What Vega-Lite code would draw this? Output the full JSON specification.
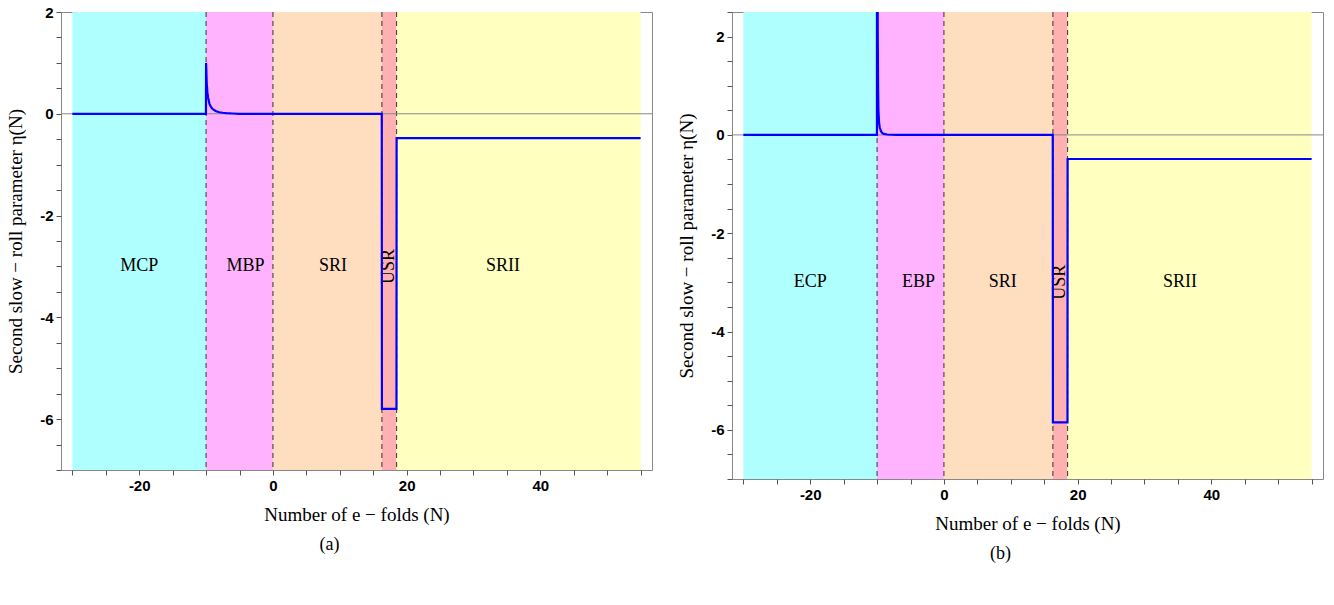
{
  "$schema": "https://vega.github.io/schema/vega-lite/v6.json",
  "padding": {"left": 6, "top": 4, "right": 5, "bottom": 5},
  "spacing": 24,
  "datasets": {
    "regionsA": [
      {"N0": -30, "N1": -10, "r": "c"},
      {"N0": -10, "N1": 0, "r": "m"},
      {"N0": 0, "N1": 16.3, "r": "o"},
      {"N0": 16.3, "N1": 18.5, "r": "r"},
      {"N0": 18.5, "N1": 55, "r": "y"}
    ],
    "bounds": [{"N": -10}, {"N": 0}, {"N": 16.3}, {"N": 18.5}],
    "labelsA": [
      {"N": -20, "eta": -3, "t": "MCP"},
      {"N": -4.1, "eta": -3, "t": "MBP"},
      {"N": 9, "eta": -3, "t": "SRI"},
      {"N": 17.4, "eta": -3, "t": "USR"},
      {"N": 34.4, "eta": -3, "t": "SRII"}
    ],
    "labelsB": [
      {"N": -20, "eta": -3, "t": "ECP"},
      {"N": -3.8, "eta": -3, "t": "EBP"},
      {"N": 8.8, "eta": -3, "t": "SRI"},
      {"N": 17.4, "eta": -3, "t": "USR"},
      {"N": 35.3, "eta": -3, "t": "SRII"}
    ],
    "lineA": [
      {"N": -30, "eta": 0}, {"N": -10.02, "eta": 0}, {"N": -10, "eta": 1.0},
      {"N": -9.9, "eta": 0.6}, {"N": -9.8, "eta": 0.42}, {"N": -9.7, "eta": 0.32},
      {"N": -9.5, "eta": 0.2}, {"N": -9.25, "eta": 0.13}, {"N": -9, "eta": 0.09},
      {"N": -8.5, "eta": 0.05}, {"N": -8, "eta": 0.03}, {"N": -7.5, "eta": 0.02},
      {"N": -7, "eta": 0.012}, {"N": -6, "eta": 0.005}, {"N": -5, "eta": 0},
      {"N": 16.28, "eta": 0}, {"N": 16.3, "eta": -5.8}, {"N": 18.48, "eta": -5.8},
      {"N": 18.5, "eta": -0.48}, {"N": 55, "eta": -0.48}
    ],
    "lineB": [
      {"N": -30, "eta": 0}, {"N": -10.02, "eta": 0}, {"N": -10, "eta": 20},
      {"N": -9.95, "eta": 5}, {"N": -9.9, "eta": 2}, {"N": -9.85, "eta": 1},
      {"N": -9.8, "eta": 0.5}, {"N": -9.7, "eta": 0.25}, {"N": -9.6, "eta": 0.15},
      {"N": -9.4, "eta": 0.07}, {"N": -9.2, "eta": 0.035}, {"N": -9, "eta": 0.02},
      {"N": -8.5, "eta": 0.008}, {"N": -8, "eta": 0.003}, {"N": -7, "eta": 0},
      {"N": 16.28, "eta": 0}, {"N": 16.3, "eta": -5.85}, {"N": 18.48, "eta": -5.85},
      {"N": 18.5, "eta": -0.49}, {"N": 55, "eta": -0.49}
    ]
  },
  "hconcat": [
    {
      "title": {"text": "(a)", "orient": "bottom", "frame": "bounds", "anchor": "middle", "offset": 12, "fontSize": 18},
      "width": 591,
      "height": 458,
      "resolve": {"axis": {"x": "independent", "y": "independent"}},
      "layer": [
        {
          "data": {"name": "regionsA"},
          "mark": {"type": "rect"},
          "encoding": {
            "x": {"field": "N0", "type": "quantitative", "scale": {"domain": [-31.7, 56.7], "nice": false, "zero": false}, "axis": null},
            "x2": {"field": "N1"},
            "color": {"field": "r", "type": "nominal", "legend": null, "scale": {"domain": ["c", "m", "o", "r", "y"], "range": ["#B0FFFF", "#FFB3FF", "#FFDDBF", "#FFB0B0", "#FFFFC0"]}}
          }
        },
        {
          "data": {"name": "bounds"},
          "mark": {"type": "rule", "color": "#333", "strokeDash": [5, 4], "strokeWidth": 1},
          "encoding": {"x": {"field": "N", "type": "quantitative", "axis": null}}
        },
        {
          "data": {"values": [{"z": 0}]},
          "mark": {"type": "rule", "color": "#888", "strokeWidth": 1},
          "encoding": {"y": {"field": "z", "type": "quantitative", "axis": null}}
        },
        {
          "data": {"name": "labelsA"},
          "transform": [{"filter": "datum.t !== 'USR'"}],
          "mark": {"type": "text", "font": "Liberation Serif", "fontSize": 18, "color": "#000"},
          "encoding": {
            "x": {"field": "N", "type": "quantitative", "axis": null},
            "y": {"field": "eta", "type": "quantitative", "axis": null},
            "text": {"field": "t"}
          }
        },
        {
          "data": {"name": "labelsA"},
          "transform": [{"filter": "datum.t === 'USR'"}],
          "mark": {"type": "text", "font": "Liberation Serif", "fontSize": 18, "color": "#000", "angle": 270},
          "encoding": {
            "x": {"field": "N", "type": "quantitative", "axis": null},
            "y": {"field": "eta", "type": "quantitative", "axis": null},
            "text": {"field": "t"}
          }
        },
        {
          "data": {"name": "lineA"},
          "mark": {"type": "line", "color": "#0000FF", "strokeWidth": 2.2, "clip": true},
          "encoding": {
            "x": {"field": "N", "type": "quantitative", "title": "Number of e − folds (N)",
              "axis": {"orient": "bottom", "values": [-30, -25, -20, -15, -10, -5, 0, 5, 10, 15, 20, 25, 30, 35, 40, 45, 50, 55], "labelExpr": "datum.value % 20 === 0 ? toString(datum.value) : ''", "tickSize": 5, "titlePadding": 12}},
            "y": {"field": "eta", "type": "quantitative", "scale": {"domain": [-7, 2], "nice": false, "zero": false}, "title": "Second slow − roll parameter η(N)",
              "axis": {"orient": "left", "values": [-7, -6.5, -6, -5.5, -5, -4.5, -4, -3.5, -3, -2.5, -2, -1.5, -1, -0.5, 0, 0.5, 1, 1.5, 2], "labelExpr": "datum.value % 2 === 0 ? toString(datum.value) : ''", "tickSize": 5, "titlePadding": 14}}
          }
        }
      ]
    },
    {
      "title": {"text": "(b)", "orient": "bottom", "frame": "bounds", "anchor": "middle", "offset": 12, "fontSize": 18},
      "width": 591,
      "height": 467,
      "resolve": {"axis": {"x": "independent", "y": "independent"}},
      "layer": [
        {
          "data": {"name": "regionsA"},
          "mark": {"type": "rect"},
          "encoding": {
            "x": {"field": "N0", "type": "quantitative", "scale": {"domain": [-31.7, 56.7], "nice": false, "zero": false}, "axis": null},
            "x2": {"field": "N1"},
            "color": {"field": "r", "type": "nominal", "legend": null, "scale": {"domain": ["c", "m", "o", "r", "y"], "range": ["#B0FFFF", "#FFB3FF", "#FFDDBF", "#FFB0B0", "#FFFFC0"]}}
          }
        },
        {
          "data": {"name": "bounds"},
          "mark": {"type": "rule", "color": "#333", "strokeDash": [5, 4], "strokeWidth": 1},
          "encoding": {"x": {"field": "N", "type": "quantitative", "axis": null}}
        },
        {
          "data": {"values": [{"z": 0}]},
          "mark": {"type": "rule", "color": "#888", "strokeWidth": 1},
          "encoding": {"y": {"field": "z", "type": "quantitative", "axis": null}}
        },
        {
          "data": {"name": "labelsB"},
          "transform": [{"filter": "datum.t !== 'USR'"}],
          "mark": {"type": "text", "font": "Liberation Serif", "fontSize": 18, "color": "#000"},
          "encoding": {
            "x": {"field": "N", "type": "quantitative", "axis": null},
            "y": {"field": "eta", "type": "quantitative", "axis": null},
            "text": {"field": "t"}
          }
        },
        {
          "data": {"name": "labelsB"},
          "transform": [{"filter": "datum.t === 'USR'"}],
          "mark": {"type": "text", "font": "Liberation Serif", "fontSize": 18, "color": "#000", "angle": 270},
          "encoding": {
            "x": {"field": "N", "type": "quantitative", "axis": null},
            "y": {"field": "eta", "type": "quantitative", "axis": null},
            "text": {"field": "t"}
          }
        },
        {
          "data": {"name": "lineB"},
          "mark": {"type": "line", "color": "#0000FF", "strokeWidth": 2.2, "clip": true},
          "encoding": {
            "x": {"field": "N", "type": "quantitative", "title": "Number of e − folds (N)",
              "axis": {"orient": "bottom", "values": [-30, -25, -20, -15, -10, -5, 0, 5, 10, 15, 20, 25, 30, 35, 40, 45, 50, 55], "labelExpr": "datum.value % 20 === 0 ? toString(datum.value) : ''", "tickSize": 5, "titlePadding": 12}},
            "y": {"field": "eta", "type": "quantitative", "scale": {"domain": [-7, 2.5], "nice": false, "zero": false}, "title": "Second slow − roll parameter η(N)",
              "axis": {"orient": "left", "values": [-7, -6.5, -6, -5.5, -5, -4.5, -4, -3.5, -3, -2.5, -2, -1.5, -1, -0.5, 0, 0.5, 1, 1.5, 2, 2.5], "labelExpr": "datum.value % 2 === 0 ? toString(datum.value) : ''", "tickSize": 5, "titlePadding": 14}}
          }
        }
      ]
    }
  ],
  "config": {
    "view": {"stroke": "#888", "strokeWidth": 1},
    "axis": {"grid": false, "domain": false, "labelFont": "Liberation Sans", "labelFontWeight": "bold", "labelFontSize": 15, "labelColor": "#000", "tickColor": "#555", "labelPadding": 3, "titleFont": "Liberation Serif", "titleFontWeight": "normal", "titleFontSize": 19, "titleColor": "#000"},
    "title": {"font": "Liberation Serif", "fontSize": 19, "fontWeight": "normal", "color": "#000"}
  }
}
